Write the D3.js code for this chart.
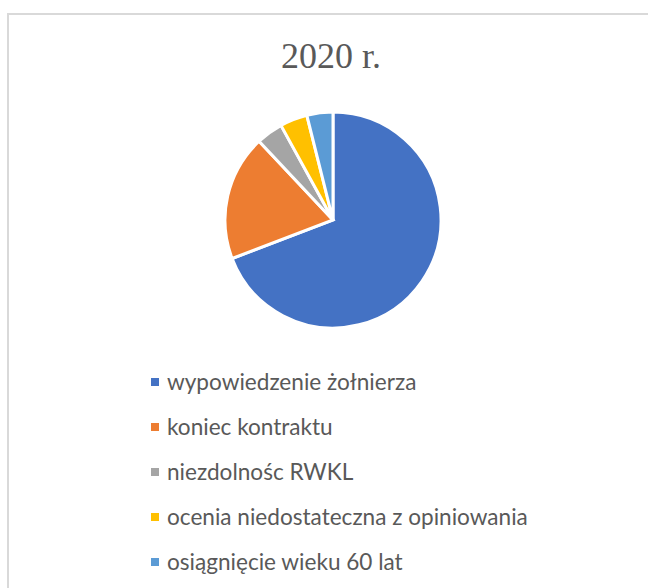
<!DOCTYPE html>
<html>
<head>
<meta charset="utf-8">
<script src="https://cdn.jsdelivr.net/npm/d3@7"></script>
<style>
  html, body { margin: 0; padding: 0; background: #fff; }
  svg { display: block; }
</style>
</head>
<body>
<svg id="chart" width="648" height="588"></svg>
<script>
const title = "2020 r.";
const categories = [
  "wypowiedzenie żołnierza",
  "koniec kontraktu",
  "niezdolnośc RWKL",
  "ocenia niedostateczna z opiniowania",
  "osiągnięcie wieku 60 lat"
];
const values = [69.2, 18.8, 4.0, 4.1, 3.9];
const colors = ["#4472C4", "#ED7D31", "#A5A5A5", "#FFC000", "#5B9BD5"];

const svg = d3.select("#chart");

// chart frame
svg.append("rect")
  .attr("x", 8).attr("y", 14)
  .attr("width", 660).attr("height", 600)
  .attr("fill", "#fff")
  .attr("stroke", "#d9d9d9").attr("stroke-width", 2);

svg.append("text")
  .attr("x", 331).attr("y", 68)
  .attr("text-anchor", "middle")
  .attr("font-family", "'Liberation Serif', 'Times New Roman', serif")
  .attr("font-size", 36)
  .attr("fill", "#595959")
  .text(title);

const cx = 333, cy = 220, r = 108;
const pie = d3.pie().sort(null).value(d => d.v);
const arc = d3.arc().innerRadius(0).outerRadius(r);
const data = categories.map((c, i) => ({ c, v: values[i], col: colors[i] }));

svg.append("g")
  .attr("transform", `translate(${cx},${cy})`)
  .selectAll("path")
  .data(pie(data))
  .join("path")
  .attr("d", arc)
  .attr("fill", d => d.data.col)
  .attr("stroke", "#fff")
  .attr("stroke-width", 3)
  .attr("stroke-linejoin", "miter");

const color = d3.scaleOrdinal().domain(categories).range(colors);
const y = d3.scalePoint().domain(categories).range([382, 562]);

const leg = svg.append("g")
  .selectAll("g")
  .data(categories)
  .join("g")
  .attr("transform", d => `translate(151,${y(d)})`);

leg.append("rect")
  .attr("x", 0).attr("y", -4)
  .attr("width", 8).attr("height", 8)
  .attr("fill", d => color(d));

const labels = leg.append("text")
  .attr("x", 16).attr("y", 0)
  .attr("dy", "0.35em")
  .attr("font-family", "Lato, 'Open Sans', sans-serif")
  .attr("font-size", 20)
  .attr("fill", "#595959")
  .text(d => d);

// fit font size so the longest label spans ~361px like the reference
let maxW = 0;
labels.each(function () { maxW = Math.max(maxW, this.getComputedTextLength()); });
const fs = Math.min(24, 20 * 361 / maxW);
labels.attr("font-size", fs);
</script>
</body>
</html>
